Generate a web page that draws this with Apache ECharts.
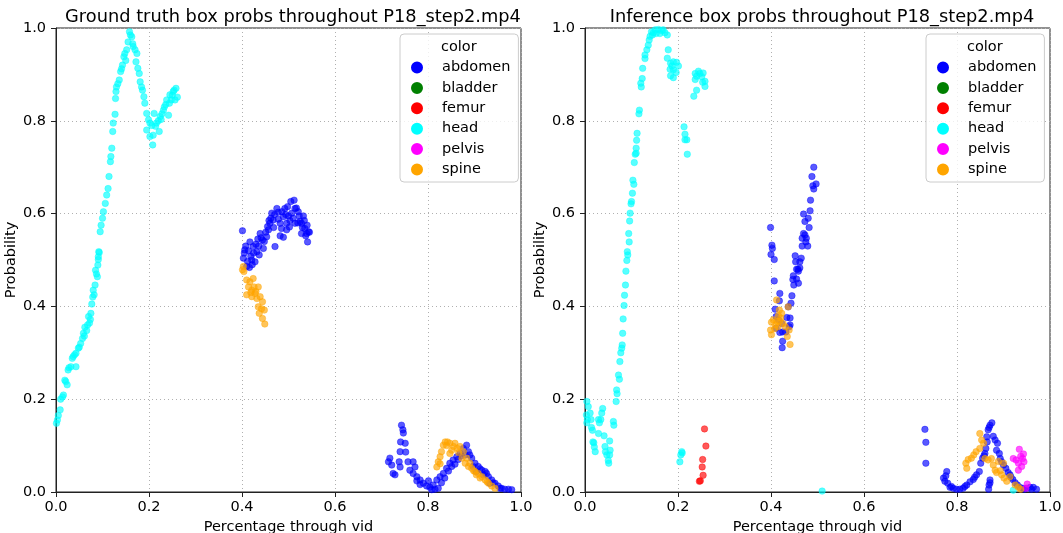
<!DOCTYPE html>
<html>
<head>
<meta charset="utf-8">
<script src="https://cdn.jsdelivr.net/npm/echarts@6/dist/echarts.min.js"></script>
<style>
html,body{margin:0;padding:0;background:#fff;}
#chart{width:1063px;height:533px;}
</style>
</head>
<body>
<div id="chart"></div>
<script>
// ---------- data (x = fraction through video, y = probability) ----------
const classNames = ['abdomen','bladder','femur','head','pelvis','spine'];
const classColors = ['#0000ff','#008000','#ff0000','#00ffff','#ff00ff','#ffa500'];
const tickValues = [0.0,0.2,0.4,0.6,0.8,1.0];
const titleLeft = 'Ground truth box probs throughout P18_step2.mp4';
const titleRight = 'Inference box probs throughout P18_step2.mp4';

// Ground truth
const gtAbdomen = [
[0.401,0.563],[0.406,0.522],[0.403,0.504],[0.410,0.486],[0.416,0.484],[0.417,0.539],[0.424,0.529],[0.421,0.500],
[0.428,0.496],[0.432,0.518],[0.439,0.557],[0.437,0.511],[0.446,0.525],[0.444,0.543],[0.453,0.550],[0.457,0.565],
[0.460,0.579],[0.464,0.601],[0.467,0.586],[0.471,0.529],[0.475,0.611],[0.478,0.603],[0.482,0.579],[0.482,0.552],
[0.485,0.568],[0.489,0.593],[0.492,0.611],[0.496,0.579],[0.500,0.595],[0.505,0.626],[0.512,0.629],[0.507,0.601],
[0.514,0.611],[0.514,0.579],[0.521,0.604],[0.525,0.583],[0.528,0.557],[0.532,0.595],[0.535,0.568],[0.539,0.557],
[0.543,0.561],[0.541,0.539],[0.537,0.552],[0.528,0.579],[0.496,0.565],[0.502,0.571],[0.489,0.549],
[0.405,0.515],[0.412,0.497],[0.419,0.508],[0.425,0.515],[0.430,0.534],[0.436,0.530],[0.441,0.548],[0.448,0.540],
[0.451,0.560],[0.455,0.572],[0.462,0.590],[0.470,0.598],[0.478,0.588],[0.486,0.604],[0.494,0.598],[0.498,0.615],
[0.503,0.585],[0.510,0.590],[0.517,0.612],[0.520,0.580],[0.523,0.595],[0.530,0.570],[0.534,0.585],[0.540,0.575],
[0.545,0.560],[0.408,0.530],[0.414,0.520],[0.422,0.490],[0.434,0.545],[0.458,0.585],[0.468,0.570],
[0.743,0.144],[0.746,0.134],[0.747,0.127],[0.741,0.108],[0.751,0.105],[0.740,0.087],[0.752,0.086],[0.715,0.065],
[0.718,0.073],[0.722,0.058],[0.729,0.037],[0.725,0.040],[0.738,0.065],[0.740,0.054],[0.757,0.065],[0.768,0.065],
[0.772,0.054],[0.761,0.047],[0.768,0.040],[0.776,0.033],[0.783,0.026],[0.790,0.019],[0.797,0.013],[0.804,0.010],
[0.801,0.024],[0.811,0.015],[0.819,0.026],[0.822,0.008],[0.826,0.033],[0.833,0.040],[0.840,0.051],[0.847,0.062],
[0.854,0.069],[0.862,0.076],[0.869,0.083],[0.876,0.094],[0.883,0.101],[0.887,0.087],[0.890,0.080],[0.894,0.073],
[0.901,0.062],[0.908,0.055],[0.916,0.047],[0.923,0.044],[0.926,0.040],[0.930,0.033],[0.937,0.026],[0.944,0.019],
[0.951,0.013],[0.958,0.008],[0.965,0.006],[0.973,0.006],[0.980,0.005],[0.880,0.080],[0.897,0.055],[0.904,0.044],
[0.919,0.037],[0.933,0.019],[0.783,0.016],[0.776,0.024],[0.815,0.006],[0.808,0.005],[0.829,0.020],[0.836,0.030],
[0.844,0.045],[0.851,0.055],[0.858,0.060],[0.865,0.070],[0.872,0.078],[0.912,0.050],[0.940,0.020],[0.955,0.008]
];
const gtBladder = [];
const gtFemur = [];
const gtHead = [
[0.158,0.992],[0.152,0.953],[0.146,0.938],[0.143,0.920],[0.139,0.906],[0.136,0.888],[0.130,0.873],[0.129,0.863],
[0.128,0.848],[0.127,0.814],[0.123,0.795],[0.122,0.777],[0.120,0.741],[0.118,0.723],[0.117,0.712],[0.114,0.680],
[0.112,0.654],[0.109,0.640],[0.106,0.622],[0.102,0.604],[0.100,0.590],[0.097,0.575],[0.095,0.561],[0.092,0.518],
[0.091,0.507],[0.163,0.981],[0.165,0.966],[0.170,0.953],[0.174,0.945],[0.172,0.927],[0.176,0.913],[0.179,0.902],
[0.181,0.884],[0.184,0.873],[0.186,0.866],[0.189,0.852],[0.191,0.838],[0.195,0.816],[0.199,0.802],[0.195,0.780],
[0.202,0.766],[0.208,0.748],[0.209,0.769],[0.216,0.795],[0.222,0.777],[0.211,0.816],[0.224,0.809],[0.231,0.823],
[0.233,0.830],[0.238,0.845],[0.242,0.812],[0.245,0.856],[0.248,0.845],[0.252,0.863],[0.258,0.870],[0.261,0.851],
[0.256,0.845],[0.202,0.795],[0.206,0.790],[0.214,0.788],[0.160,0.985],[0.155,0.970],[0.148,0.945],[0.166,0.960],
[0.150,0.930],[0.141,0.912],[0.133,0.880],[0.228,0.815],[0.236,0.835],[0.244,0.838],[0.250,0.855],[0.254,0.866],
[0.220,0.800],[0.226,0.803],
[0.093,0.516],[0.091,0.501],[0.090,0.489],[0.085,0.478],[0.089,0.464],[0.084,0.446],[0.080,0.435],[0.082,0.425],
[0.077,0.405],[0.075,0.385],[0.070,0.378],[0.072,0.364],[0.062,0.355],[0.059,0.342],[0.057,0.331],[0.053,0.320],
[0.048,0.310],[0.043,0.299],[0.037,0.292],[0.043,0.270],[0.032,0.270],[0.026,0.263],[0.019,0.241],[0.024,0.231],
[0.016,0.209],[0.010,0.200],[0.009,0.177],[0.003,0.155],[0.001,0.148],[0.074,0.372],[0.066,0.348],[0.061,0.336],
[0.050,0.312],[0.040,0.296],[0.035,0.288],[0.028,0.268],[0.021,0.238],[0.014,0.205],[0.005,0.165],[0.079,0.420],
[0.087,0.470],[0.068,0.360]
];
const gtPelvis = [];
const gtSpine = [
[0.403,0.486],[0.404,0.475],[0.401,0.479],[0.410,0.457],[0.424,0.460],[0.414,0.442],[0.421,0.435],[0.426,0.442],
[0.435,0.442],[0.410,0.425],[0.421,0.421],[0.432,0.417],[0.439,0.421],[0.444,0.410],[0.435,0.399],[0.442,0.395],
[0.448,0.392],[0.437,0.385],[0.444,0.374],[0.449,0.362],[0.428,0.428],[0.417,0.453],[0.419,0.430],[0.430,0.432],
[0.822,0.065],[0.826,0.076],[0.829,0.087],[0.833,0.101],[0.837,0.108],[0.842,0.108],[0.847,0.105],[0.851,0.090],
[0.858,0.105],[0.863,0.094],[0.869,0.098],[0.876,0.087],[0.880,0.062],[0.887,0.055],[0.894,0.051],[0.901,0.044],
[0.908,0.040],[0.916,0.033],[0.923,0.026],[0.930,0.019],[0.937,0.013],[0.944,0.008],[0.819,0.054],[0.826,0.061],
[0.873,0.073],[0.883,0.073],[0.890,0.062],[0.904,0.037],[0.847,0.083],[0.840,0.100],[0.855,0.098],[0.866,0.085],
[0.898,0.046],[0.912,0.030],[0.927,0.022]
];

// Inference
const infAbdomen = [
[0.492,0.700],[0.488,0.680],[0.497,0.664],[0.490,0.660],[0.492,0.653],[0.485,0.629],[0.484,0.606],[0.470,0.599],
[0.480,0.590],[0.473,0.583],[0.482,0.570],[0.399,0.570],[0.470,0.557],[0.473,0.554],[0.467,0.547],[0.476,0.547],
[0.475,0.539],[0.479,0.530],[0.467,0.530],[0.402,0.532],[0.403,0.525],[0.400,0.512],[0.407,0.501],[0.452,0.509],
[0.465,0.504],[0.462,0.496],[0.453,0.496],[0.462,0.483],[0.458,0.480],[0.455,0.480],[0.459,0.476],[0.448,0.466],
[0.455,0.459],[0.447,0.458],[0.459,0.450],[0.449,0.446],[0.407,0.455],[0.419,0.428],[0.445,0.423],[0.418,0.412],
[0.443,0.407],[0.437,0.399],[0.409,0.394],[0.411,0.378],[0.416,0.371],[0.423,0.363],[0.434,0.376],[0.441,0.375],
[0.441,0.360],[0.432,0.345],[0.425,0.345],[0.419,0.344],[0.425,0.325],[0.424,0.311],[0.439,0.356],[0.411,0.353],
[0.731,0.135],[0.733,0.107],[0.733,0.062],[0.778,0.044],[0.771,0.030],[0.774,0.023],[0.780,0.019],[0.785,0.010],
[0.792,0.008],[0.799,0.006],[0.806,0.006],[0.813,0.008],[0.821,0.015],[0.828,0.022],[0.835,0.027],[0.842,0.037],
[0.848,0.044],[0.851,0.062],[0.855,0.073],[0.860,0.083],[0.862,0.094],[0.865,0.108],[0.864,0.119],[0.867,0.134],
[0.871,0.144],[0.875,0.149],[0.869,0.139],[0.882,0.112],[0.887,0.105],[0.885,0.090],[0.891,0.083],[0.896,0.065],
[0.900,0.058],[0.905,0.051],[0.910,0.042],[0.914,0.037],[0.920,0.027],[0.925,0.020],[0.930,0.015],[0.935,0.010],
[0.942,0.008],[0.949,0.008],[0.957,0.010],[0.964,0.010],[0.971,0.006],[0.871,0.026],[0.869,0.015],[0.871,0.020],
[0.868,0.006],[0.776,0.035],[0.788,0.012],[0.817,0.012],[0.838,0.032],[0.858,0.078],[0.878,0.120],[0.893,0.072],
[0.916,0.032],[0.945,0.006],[0.960,0.006]
];
const infBladder = [];
const infFemur = [
[0.257,0.136],[0.260,0.099],[0.253,0.070],[0.252,0.054],[0.254,0.036],[0.248,0.024],[0.246,0.023]
];
const infHead = [
[0.143,0.992],[0.151,0.996],[0.158,0.997],[0.165,0.994],[0.172,0.990],[0.177,0.985],[0.161,0.988],[0.153,0.988],
[0.147,0.990],[0.168,0.996],[0.138,0.974],[0.136,0.963],[0.133,0.953],[0.129,0.942],[0.129,0.934],[0.124,0.913],
[0.123,0.891],[0.120,0.881],[0.121,0.873],[0.117,0.823],[0.116,0.815],[0.112,0.773],[0.111,0.758],[0.110,0.741],
[0.110,0.730],[0.140,0.982],[0.145,0.985],
[0.179,0.953],[0.177,0.935],[0.184,0.924],[0.190,0.927],[0.197,0.926],[0.201,0.918],[0.183,0.911],[0.190,0.910],
[0.196,0.904],[0.184,0.897],[0.190,0.893],[0.187,0.918],
[0.237,0.902],[0.244,0.907],[0.247,0.902],[0.254,0.903],[0.240,0.896],[0.237,0.889],[0.251,0.895],[0.253,0.883],
[0.258,0.885],[0.258,0.874],[0.240,0.866],[0.234,0.853],
[0.213,0.787],[0.215,0.771],[0.219,0.759],[0.215,0.759],[0.220,0.728],
[0.108,0.728],[0.106,0.710],[0.103,0.672],[0.105,0.663],[0.102,0.644],[0.100,0.626],[0.099,0.621],[0.097,0.601],
[0.096,0.584],[0.094,0.557],[0.095,0.539],[0.091,0.518],[0.092,0.511],[0.090,0.499],[0.088,0.476],[0.087,0.446],
[0.085,0.424],[0.084,0.402],[0.082,0.373],[0.081,0.342],[0.080,0.317],[0.079,0.310],
[0.077,0.300],[0.075,0.281],[0.072,0.252],[0.074,0.243],[0.068,0.220],[0.069,0.212],[0.067,0.195],
[0.004,0.195],[0.007,0.184],[0.011,0.170],[0.003,0.166],[0.005,0.156],[0.013,0.156],[0.004,0.149],[0.038,0.180],
[0.036,0.170],[0.034,0.156],[0.029,0.156],[0.031,0.149],[0.014,0.139],[0.016,0.133],[0.029,0.126],[0.041,0.121],
[0.061,0.152],[0.062,0.144],[0.017,0.108],[0.019,0.106],[0.020,0.097],[0.022,0.087],[0.043,0.098],[0.044,0.087],
[0.047,0.080],[0.050,0.068],[0.051,0.062],[0.053,0.080],[0.054,0.090],[0.053,0.110],
[0.208,0.087],[0.206,0.080],[0.204,0.065],[0.209,0.084],
[0.510,0.002],[0.921,0.004]
];
const infPelvis = [
[0.934,0.092],[0.921,0.072],[0.927,0.069],[0.932,0.062],[0.937,0.077],[0.941,0.072],[0.944,0.065],[0.939,0.055],
[0.932,0.047],[0.943,0.082],[0.951,0.017],[0.948,0.008]
];
const infSpine = [
[0.412,0.414],[0.418,0.392],[0.423,0.385],[0.405,0.371],[0.401,0.366],[0.413,0.368],[0.419,0.368],[0.426,0.363],
[0.415,0.356],[0.408,0.352],[0.399,0.349],[0.401,0.339],[0.437,0.399],[0.435,0.335],[0.441,0.318],[0.439,0.349],
[0.431,0.356],[0.416,0.380],[0.421,0.375],[0.410,0.360],
[0.849,0.126],[0.853,0.112],[0.857,0.105],[0.849,0.094],[0.841,0.087],[0.836,0.080],[0.831,0.073],[0.824,0.070],
[0.819,0.062],[0.821,0.051],[0.860,0.072],[0.867,0.069],[0.874,0.072],[0.878,0.058],[0.882,0.047],[0.885,0.042],
[0.893,0.046],[0.896,0.037],[0.901,0.030],[0.907,0.023],[0.914,0.033],[0.925,0.015],[0.932,0.010],[0.937,0.006],
[0.889,0.066],[0.900,0.062]
];

const gtSeries = [gtAbdomen, gtBladder, gtFemur, gtHead, gtPelvis, gtSpine];
const infSeries = [infAbdomen, infBladder, infFemur, infHead, infPelvis, infSpine];

// ---------- chart ----------
const FONT = 'DejaVu Sans';
const SMALL = 14.5;
const chart = echarts.init(document.getElementById('chart'), null, {renderer:'canvas'});

const grids = [
  {left:56, top:28, width:465, height:464, show:true, borderColor:'#222', borderWidth:1, backgroundColor:'transparent', containLabel:false, outerBoundsMode:'none'},
  {left:585, top:28, width:465, height:464, show:true, borderColor:'#222', borderWidth:1, backgroundColor:'transparent', containLabel:false, outerBoundsMode:'none'}
];

function mkX(i){
  return {
    type:'value', gridIndex:i, min:0, max:1, interval:0.2,
    name:'Percentage through vid', nameLocation:'middle', nameGap:25,
    nameTextStyle:{fontFamily:FONT, fontSize:SMALL, color:'#000', verticalAlign:'top'},
    axisLine:{show:true, onZero:false, lineStyle:{color:'#222', width:1}},
    axisTick:{show:true, length:5, lineStyle:{color:'#222'}},
    axisLabel:{fontFamily:FONT, fontSize:SMALL, color:'#000', margin:8, formatter:v=>v.toFixed(1)},
    splitLine:{show:true, lineStyle:{type:[1,3], color:'#b0b0b0', width:1}}
  };
}
function mkY(i){
  return {
    type:'value', gridIndex:i, min:0, max:1, interval:0.2,
    name:'Probability', nameLocation:'middle', nameGap:37, nameRotate:90,
    nameTextStyle:{fontFamily:FONT, fontSize:SMALL, color:'#000'},
    axisLine:{show:true, onZero:false, lineStyle:{color:'#222', width:1}},
    axisTick:{show:true, length:5, lineStyle:{color:'#222'}},
    axisLabel:{fontFamily:FONT, fontSize:SMALL, color:'#000', margin:10, formatter:v=>v.toFixed(1)},
    splitLine:{show:true, lineStyle:{type:[1,3], color:'#b0b0b0', width:1}}
  };
}

const series = [];
[gtSeries, infSeries].forEach((set, gi) => {
  set.forEach((pts, ci) => {
    series.push({
      name: classNames[ci], type:'scatter', xAxisIndex:gi, yAxisIndex:gi,
      data: pts, symbol:'circle', symbolSize:6.5,
      itemStyle:{color:classColors[ci], opacity:0.65, borderColor:classColors[ci], borderWidth:0.6},
      emphasis:{disabled:true}, silent:true, animation:false
    });
  });
});

function mkLegend(left){
  return {
    left:left, top:34, orient:'vertical',
    data: classNames.map(n=>({name:n, icon:'circle'})),
    itemWidth:10, itemHeight:10, itemGap:5.4,
    padding:[26, 8, 5, 11],
    borderColor:'#cccccc', borderWidth:1, borderRadius:4, backgroundColor:'rgba(255,255,255,0.8)',
    itemStyle:{opacity:1},
    textStyle:{fontFamily:FONT, fontSize:SMALL, color:'#000', lineHeight:15, padding:[0,0,0,15]},
    selectedMode:false
  };
}

const option = {
  animation:false,
  backgroundColor:'#ffffff',
  title:[
    {text:titleLeft, left:288, top:3, textAlign:'center', textStyle:{fontFamily:FONT, fontSize:17.8, fontWeight:'normal', color:'#000'}},
    {text:titleRight, left:817, top:3, textAlign:'center', textStyle:{fontFamily:FONT, fontSize:17.8, fontWeight:'normal', color:'#000'}}
  ],
  grid: grids,
  xAxis:[mkX(0), mkX(1)],
  yAxis:[mkY(0), mkY(1)],
  legend:[mkLegend(400), mkLegend(926)],
  graphic:[
    {type:'text', left:441, top:40, style:{text:'color', fontFamily:FONT, fontSize:SMALL, fill:'#000'}, z:100},
    {type:'text', left:967, top:40, style:{text:'color', fontFamily:FONT, fontSize:SMALL, fill:'#000'}, z:100}
  ],
  series: series
};
chart.setOption(option);
</script>
</body>
</html>
